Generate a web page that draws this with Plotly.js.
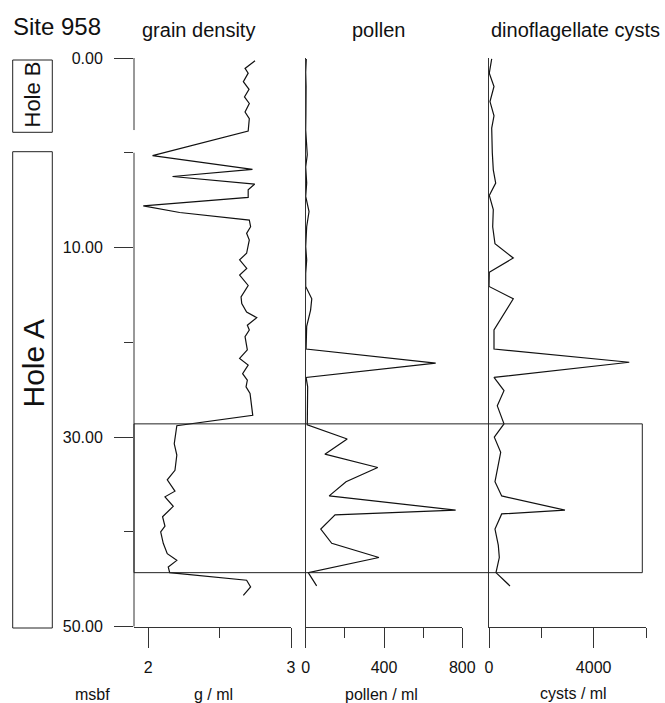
<!DOCTYPE html>
<html>
<head>
<meta charset="utf-8">
<script src="https://cdn.plot.ly/plotly-3.0.1.min.js"></script>
<style>html,body{margin:0;padding:0;background:#fff}#chart{width:665px;height:703px}</style>
</head>
<body>
<div id="chart"></div>
<script>
// ---- data (depth in msbf within each hole) ----
const gdDepthB = [0.3, 1.1, 1.6, 2.5, 3.3, 4.1, 4.8, 5.7, 6.4, 7.7];
const gdB      = [2.748, 2.678, 2.70, 2.666, 2.706, 2.674, 2.708, 2.678, 2.708, 2.70];
const gdDepthA = [0.3, 1.75, 2.5, 3.3, 3.9, 4.7, 5.6, 6.3, 7.1, 7.8, 8.5, 9.2, 10.6, 11.3, 12.2, 12.9, 14.0, 15.2, 15.9, 16.8, 17.4, 18.2, 18.7, 19.4, 20.8, 21.7, 22.4, 23.3, 24.0, 24.7, 25.4, 27.7, 28.8, 29.8, 30.7, 31.9, 33.5, 34.5, 35.7, 36.3, 37.3, 38.4, 39.4, 40.0, 41.2, 42.3, 43.0, 43.7, 44.3, 45.1, 45.8, 46.7];
const gdA      = [2.03, 2.73, 2.17, 2.746, 2.70, 2.70, 1.965, 2.22, 2.708, 2.717, 2.689, 2.708, 2.689, 2.64, 2.69, 2.64, 2.70, 2.65, 2.655, 2.689, 2.76, 2.694, 2.708, 2.678, 2.694, 2.64, 2.70, 2.661, 2.694, 2.685, 2.713, 2.732, 2.20, 2.19, 2.182, 2.20, 2.187, 2.133, 2.187, 2.117, 2.175, 2.10, 2.117, 2.087, 2.105, 2.133, 2.20, 2.14, 2.15, 2.689, 2.717, 2.666];

const polDepthB = [0.1, 1.5, 3.0, 4.5, 6.0, 7.6];
const polB      = [3, 0, 2, 0, 1, 0];
const polDepthA = [0.2, 1.5, 3.2, 4.6, 6.2, 7.8, 9.9, 11.3, 12.7, 14.1, 15.4, 16.6, 18.3, 20.7, 22.2, 23.7, 24.7, 28.7, 30.2, 31.8, 33.2, 34.7, 36.2, 37.7, 38.2, 39.7, 41.2, 42.7, 44.3, 45.7];
const polA      = [8, 0, 5, 0, 17, 5, 0, 5, 0, 0, 31, 25, 5, 2, 664, 2, 10, 8, 212, 98, 368, 206, 120, 766, 150, 77, 133, 374, 13, 56];

const cyDepthB = [0.1, 1.6, 3.0, 4.6, 6.1, 7.4];
const cyB      = [103, 11, 191, 38, 191, 103];
const cyDepthA = [0.0, 1.8, 3.2, 4.5, 6.0, 7.8, 9.6, 11.1, 12.6, 14.1, 15.4, 18.7, 20.7, 22.1, 23.7, 25.1, 26.7, 28.6, 30.0, 31.6, 34.7, 36.2, 37.7, 38.1, 39.7, 41.4, 42.7, 44.3, 45.7];
const cyA      = [126, 164, 256, 11, 164, 141, 229, 928, 11, 0, 928, 191, 191, 5360, 191, 573, 317, 573, 203, 447, 229, 485, 2903, 485, 229, 355, 394, 267, 802];

const depthTickVals  = [0, 10, 30, 50];           // labelled depths
const depthTickHoles = ['B', 'A', 'A', 'A'];
const depthTickText  = ['0.00', '10.00', '30.00', '50.00'];
const minorDepthsA   = [0, 20, 40];
const holeBBottom = 7.6;                          // bottom of Hole B section
const boxTopA = 28.6, boxBottomA = 44.3;          // highlighted interval in Hole A

// Hole A is plotted below Hole B with an offset
const OFFSET_A = 10;
const toPlot = (d, hole) => hole === 'A' ? d + OFFSET_A : d;
const yB = arr => arr.map(d => toPlot(d, 'B'));
const yA = arr => arr.map(d => toPlot(d, 'A'));
const joinY = (b, a) => yB(b).concat(yA(a));

const W = 665, H = 703;
const px = v => v / W;
const py = v => 1 - v / H;

const FONT = 'Liberation Sans, Arial, Helvetica, sans-serif';
const AX = '#333';
const LINE = {color: '#111', width: 1.2};

const traces = [
  {x: gdB.concat(gdA), y: joinY(gdDepthB, gdDepthA), xaxis: 'x', yaxis: 'y', mode: 'lines', line: LINE, name: 'grain density'},
  {x: polB.concat(polA), y: joinY(polDepthB, polDepthA), xaxis: 'x2', yaxis: 'y2', mode: 'lines', line: LINE, name: 'pollen'},
  {x: cyB.concat(cyA), y: joinY(cyDepthB, cyDepthA), xaxis: 'x3', yaxis: 'y3', mode: 'lines', line: LINE, name: 'cysts'}
];

const yDomain = [py(626.7), py(58)];
const yRange = [60, 0];
const xCommon = {
  showline: true, linecolor: AX, linewidth: 1, ticks: 'outside', ticklen: 20, tickcolor: AX, tickwidth: 1,
  showgrid: false, zeroline: false, tickfont: {family: FONT, size: 16, color: '#111'},
  ticklabelstandoff: 6, automargin: false, fixedrange: true
};
const yHidden = {
  range: yRange, domain: yDomain, showline: true, linecolor: AX, linewidth: 1, ticks: '',
  showticklabels: false, showgrid: false, zeroline: false, automargin: false
};

const layout = {
  width: W, height: H,
  margin: {l: 0, r: 0, t: 0, b: 0, pad: 0},
  paper_bgcolor: '#fff', plot_bgcolor: 'rgba(0,0,0,0)',
  showlegend: false,
  font: {family: FONT, color: '#111'},
  xaxis: Object.assign({}, xCommon, {domain: [px(134), px(291)], range: [1.9, 3], anchor: 'y',
    tickmode: 'array', tickvals: [2, 3], ticktext: ['2', '3'],
    minor: {tickmode: 'array', tickvals: [2.5], ticks: 'outside', ticklen: 10, tickcolor: AX}}),
  xaxis2: Object.assign({}, xCommon, {domain: [px(305.7), px(462.3)], range: [0, 800], anchor: 'y2',
    tickmode: 'array', tickvals: [0, 400, 800], ticktext: ['0', '400', '800'],
    minor: {tickmode: 'array', tickvals: [200, 600], ticks: 'outside', ticklen: 10, tickcolor: AX}}),
  xaxis3: Object.assign({}, xCommon, {domain: [px(489), px(646)], range: [0, 6000], anchor: 'y3',
    tickmode: 'array', tickvals: [0, 4000], ticktext: ['0', '4000'],
    minor: {tickmode: 'array', tickvals: [2000, 6000], ticks: 'outside', ticklen: 10, tickcolor: AX}}),
  yaxis: {range: yRange, domain: yDomain, anchor: 'x', showline: false, ticks: 'outside', ticklen: 19,
    tickcolor: AX, tickwidth: 1, tickmode: 'array',
    tickvals: depthTickVals.map((d, i) => toPlot(d, depthTickHoles[i])), ticktext: depthTickText,
    tickfont: {family: FONT, size: 16, color: '#111'}, ticklabelstandoff: 8,
    minor: {tickmode: 'array', tickvals: yA(minorDepthsA), ticks: 'outside', ticklen: 9, tickcolor: AX},
    showgrid: false, zeroline: false, automargin: false, fixedrange: true},
  yaxis2: Object.assign({}, yHidden, {anchor: 'x2'}),
  yaxis3: Object.assign({}, yHidden, {anchor: 'x3'}),
  shapes: [
    // broken depth axis line
    {type: 'line', xref: 'paper', yref: 'y', x0: px(134), x1: px(134), y0: toPlot(0, 'B'), y1: toPlot(holeBBottom, 'B'), line: {color: AX, width: 1}},
    {type: 'line', xref: 'paper', yref: 'y', x0: px(134), x1: px(134), y0: toPlot(0, 'A'), y1: 60, line: {color: AX, width: 1}},
    // highlighted interval
    {type: 'rect', xref: 'paper', yref: 'y', x0: px(134), x1: px(642.3), y0: toPlot(boxTopA, 'A'), y1: toPlot(boxBottomA, 'A'), line: {color: '#222', width: 1}, fillcolor: 'rgba(0,0,0,0)'},
    // hole boxes
    {type: 'rect', xref: 'paper', yref: 'paper', x0: px(12.7), x1: px(52.3), y0: py(60), y1: py(132.3), line: {color: '#222', width: 1}},
    {type: 'rect', xref: 'paper', yref: 'paper', x0: px(12.7), x1: px(52.3), y0: py(151.7), y1: py(628), line: {color: '#222', width: 1}}
  ],
  annotations: [
    {text: 'Site 958', xref: 'paper', yref: 'paper', x: px(11), y: py(26), xanchor: 'left', yanchor: 'middle', showarrow: false, font: {family: FONT, size: 24, color: '#111'}},
    {text: 'grain density', xref: 'paper', yref: 'paper', x: px(198.5), y: py(30), xanchor: 'center', yanchor: 'middle', showarrow: false, font: {family: FONT, size: 20, color: '#111'}},
    {text: 'pollen', xref: 'paper', yref: 'paper', x: px(378.5), y: py(30), xanchor: 'center', yanchor: 'middle', showarrow: false, font: {family: FONT, size: 20, color: '#111'}},
    {text: 'dinoflagellate cysts', xref: 'paper', yref: 'paper', x: px(575.5), y: py(30), xanchor: 'center', yanchor: 'middle', showarrow: false, font: {family: FONT, size: 20, color: '#111'}},
    {text: 'Hole B', xref: 'paper', yref: 'paper', x: px(32.5), y: py(95), xanchor: 'center', yanchor: 'middle', textangle: -90, showarrow: false, font: {family: FONT, size: 22, color: '#111'}},
    {text: 'Hole A', xref: 'paper', yref: 'paper', x: px(32.5), y: py(364), xanchor: 'center', yanchor: 'middle', textangle: -90, showarrow: false, font: {family: FONT, size: 30, color: '#111'}},
    {text: 'msbf', xref: 'paper', yref: 'paper', x: px(93), y: py(694), xanchor: 'center', yanchor: 'middle', showarrow: false, font: {family: FONT, size: 16, color: '#111'}},
    {text: 'g / ml', xref: 'paper', yref: 'paper', x: px(213), y: py(694), xanchor: 'center', yanchor: 'middle', showarrow: false, font: {family: FONT, size: 16, color: '#111'}},
    {text: 'pollen / ml', xref: 'paper', yref: 'paper', x: px(382), y: py(694), xanchor: 'center', yanchor: 'middle', showarrow: false, font: {family: FONT, size: 16, color: '#111'}},
    {text: 'cysts / ml', xref: 'paper', yref: 'paper', x: px(573), y: py(693), xanchor: 'center', yanchor: 'middle', showarrow: false, font: {family: FONT, size: 16, color: '#111'}}
  ]
};

Plotly.newPlot('chart', traces, layout, {staticPlot: true, displayModeBar: false});
</script>
</body>
</html>
